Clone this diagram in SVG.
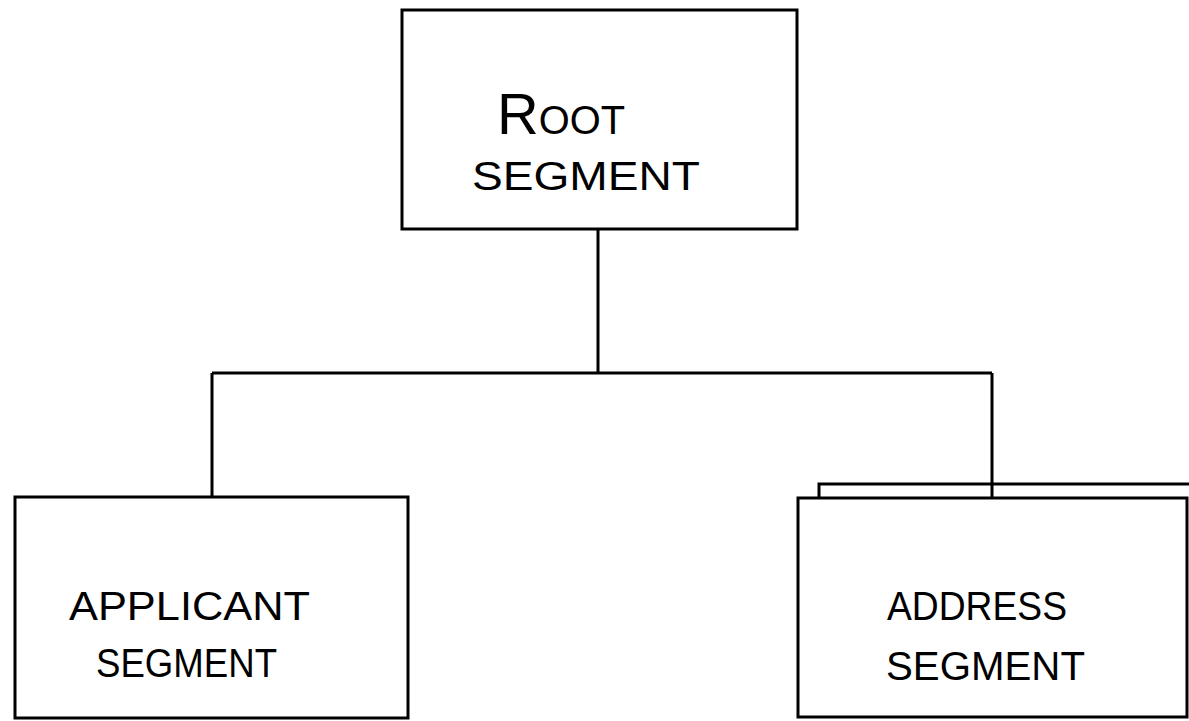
<svg xmlns="http://www.w3.org/2000/svg" width="1189" height="721" viewBox="0 0 1189 721">
<style>
.box{fill:#fff;stroke:#000;stroke-width:3}
.ln{fill:none;stroke:#000;stroke-width:3}
.t{font-family:"Liberation Sans",Arial,sans-serif;font-size:40px;fill:#000}
</style>
<rect x="0" y="0" width="1189" height="721" fill="#fff"/>
<g id="connectors">
<path class="ln" d="M598 230 V373 M212 373 H992 M212 373 V497 M992 373 V498"/>
</g>
<g id="root">
<rect class="box" x="402" y="10" width="395" height="219"/>
<text class="t" x="497" y="134" textLength="128" lengthAdjust="spacingAndGlyphs"><tspan font-size="58">R</tspan>OOT</text>
<text class="t" x="472" y="190" textLength="228" lengthAdjust="spacingAndGlyphs">SEGMENT</text>
</g>
<g id="applicant">
<rect class="box" x="15" y="497" width="393" height="221"/>
<text class="t" x="69" y="620" textLength="241" lengthAdjust="spacingAndGlyphs">APPLICANT</text>
<text class="t" x="96" y="677" textLength="181" lengthAdjust="spacingAndGlyphs">SEGMENT</text>
</g>
<g id="address">
<path class="ln" d="M819 498 V484 H1189"/>
<rect class="box" x="798" y="498" width="389" height="219"/>
<text class="t" x="887" y="620" textLength="180" lengthAdjust="spacingAndGlyphs">ADDRESS</text>
<text class="t" x="886" y="680" textLength="199" lengthAdjust="spacingAndGlyphs">SEGMENT</text>
</g>
</svg>
